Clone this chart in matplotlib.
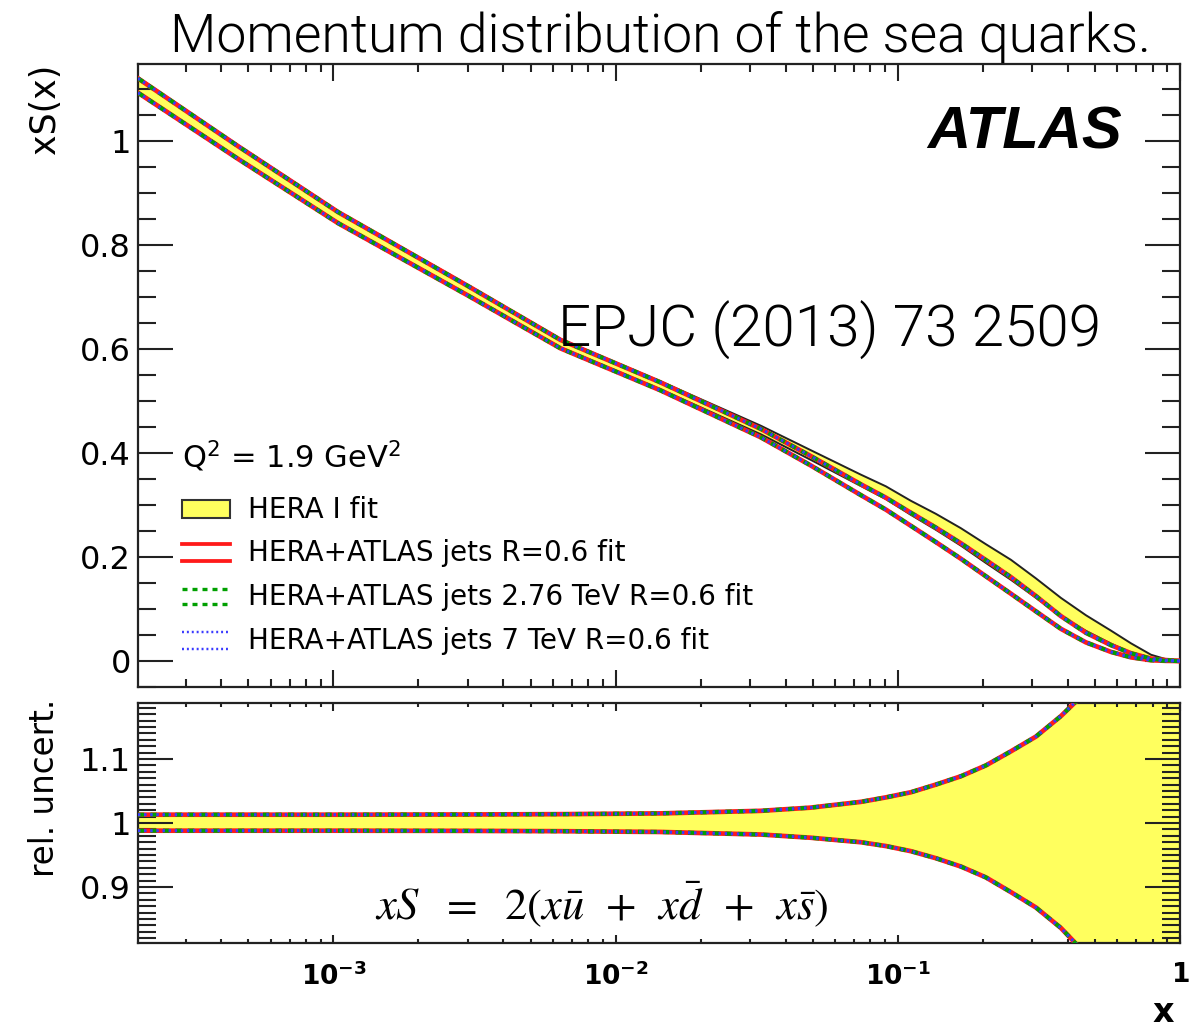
import matplotlib
matplotlib.use('Agg')
import matplotlib.pyplot as plt
import numpy as np
from matplotlib.ticker import MultipleLocator, FuncFormatter, LogLocator, FixedLocator, FixedFormatter, NullFormatter
from matplotlib.patches import Rectangle
from matplotlib.lines import Line2D

# ---------------- data ----------------
x_vals = [2.03e-4, 4.6e-4, 1.04e-3, 3.01e-3, 6.38e-3, 0.0144, 0.0327, 0.0491,
          0.0739, 0.0907, 0.1112, 0.1364, 0.1673, 0.2052, 0.2517, 0.3086,
          0.3784, 0.4642, 0.5693, 0.6703, 0.7895, 0.8923, 1.0]

hera1_central = [1.108, 0.979, 0.854, 0.713, 0.611, 0.530, 0.444, 0.396,
                 0.347, 0.323, 0.294, 0.267, 0.238, 0.206, 0.175, 0.140,
                 0.104, 0.073, 0.046, 0.025, 0.008, 0.002, 0.0]

jets_central = [1.106, 0.977, 0.852, 0.711, 0.609, 0.528, 0.438, 0.385,
                0.329, 0.302, 0.272, 0.242, 0.211, 0.178, 0.145, 0.110,
                0.074, 0.045, 0.024, 0.011, 0.003, 0.001, 0.0]
jets276_central = jets_central
jets7_central = jets_central

rel_up = [0.013, 0.013, 0.013, 0.0133, 0.0138, 0.015, 0.019, 0.024,
          0.033, 0.040, 0.048, 0.060, 0.073, 0.090, 0.112, 0.135,
          0.167, 0.205, 0.27, 0.36, 0.50, 0.70, 1.0]
rel_dn = [0.012, 0.012, 0.012, 0.0123, 0.0128, 0.014, 0.018, 0.023,
          0.030, 0.036, 0.044, 0.055, 0.068, 0.085, 0.108, 0.132,
          0.164, 0.205, 0.27, 0.36, 0.50, 0.70, 1.0]

legend_labels = ["HERA I fit", "HERA+ATLAS jets R=0.6 fit",
                 "HERA+ATLAS jets 2.76 TeV R=0.6 fit",
                 "HERA+ATLAS jets 7 TeV R=0.6 fit"]
xtick_vals = [1e-3, 1e-2, 1e-1, 1.0]
xtick_labels = [r'$\mathbf{10^{-3}}$', r'$\mathbf{10^{-2}}$', r'$\mathbf{10^{-1}}$', r'$\mathbf{1}$']

# ---------------- figure ----------------
W, H = 1203, 1027
fig = plt.figure(figsize=(W / 100, H / 100), dpi=100)

def fx(px):
    return px / W

def fy(py):
    return 1 - py / H

L, R = 138, 1180
ax1 = fig.add_axes([fx(L), fy(687), (R - L) / W, (687 - 64) / H])
ax2 = fig.add_axes([fx(L), fy(943), (R - L) / W, (943 - 703) / H])

YEL = '#ffff5e'
RED = '#ff1a1a'
GRN = '#00a000'
BLU = '#3a3aff'
STYLES = [(RED, '-', 3.4), (GRN, (0, (1.5, 1.5)), 3.0), (BLU, (0, (0.8, 1.2)), 2.2)]

x = np.array(x_vals)
hc = np.array(hera1_central)
jc = np.array(jets_central)
j2 = np.array(jets276_central)
j7 = np.array(jets7_central)
ru = np.array(rel_up)
rd = np.array(rel_dn)

# top panel
ax1.fill_between(x, hc * (1 - rd), hc * (1 + ru), color=YEL, lw=0, zorder=1)
ax1.plot(x, hc * (1 + ru), color='#222222', lw=1.4, zorder=2)
ax1.plot(x, hc * (1 - rd), color='#222222', lw=1.4, zorder=2)
for c, (col, ls, lw) in zip([jc, j2, j7], STYLES):
    ax1.plot(x, c * (1 + ru), color=col, ls=ls, lw=lw, zorder=3)
    ax1.plot(x, c * (1 - rd), color=col, ls=ls, lw=lw, zorder=3)

# bottom panel
ax2.fill_between(x, 1 - rd, 1 + ru, color=YEL, lw=0, zorder=1)
for col, ls, lw in STYLES:
    ax2.plot(x, 1 + ru, color=col, ls=ls, lw=lw, zorder=3)
    ax2.plot(x, 1 - rd, color=col, ls=ls, lw=lw, zorder=3)

for ax in (ax1, ax2):
    ax.set_xscale('log')
    ax.set_xlim(2.03e-4, 1.0)
    for s in ax.spines.values():
        s.set_linewidth(1.6)
        s.set_color('#222222')
    ax.xaxis.set_major_locator(FixedLocator(xtick_vals))
    ax.xaxis.set_minor_locator(LogLocator(base=10, subs=np.arange(2, 10), numticks=20))
    ax.xaxis.set_minor_formatter(NullFormatter())

ax1.set_ylim(-0.05, 1.148)
ax1.yaxis.set_major_locator(MultipleLocator(0.2))
ax1.yaxis.set_minor_locator(MultipleLocator(0.05))
ax1.yaxis.set_major_formatter(FuncFormatter(lambda v, p: '%g' % round(v, 3)))
ax1.tick_params(axis='y', which='major', direction='in', length=25, width=1.5,
                left=True, right=True, labelsize=23, pad=5, color='#222222')
ax1.tick_params(axis='y', which='minor', direction='in', length=13, width=1.5,
                left=True, right=True, color='#222222')
ax1.tick_params(axis='x', which='major', direction='in', length=12, width=1.5,
                top=True, bottom=True, labelbottom=False, color='#222222')
ax1.tick_params(axis='x', which='minor', direction='in', length=6, width=1.5,
                top=True, bottom=True, color='#222222')

ax2.set_ylim(0.8125, 1.1875)
ax2.yaxis.set_major_locator(MultipleLocator(0.1))
ax2.yaxis.set_minor_locator(MultipleLocator(0.01))
ax2.yaxis.set_major_formatter(FuncFormatter(lambda v, p: '%g' % round(v, 3)))
ax2.xaxis.set_major_formatter(FixedFormatter(xtick_labels))
ax2.tick_params(axis='y', which='major', direction='in', length=25, width=1.5,
                left=True, right=True, labelsize=23, pad=5, color='#222222')
ax2.tick_params(axis='y', which='minor', direction='in', length=13, width=1.5,
                left=True, right=True, color='#222222')
ax2.tick_params(axis='x', which='major', direction='in', length=6, width=1.5,
                top=True, bottom=True, labelsize=19, pad=14, color='#222222')
ax2.tick_params(axis='x', which='minor', direction='in', length=3, width=1.5,
                top=True, bottom=True, color='#222222')

# ---------------- texts ----------------
TFONT = ['Roboto', 'DejaVu Sans']
fig.text(fx(660), fy(37), 'Momentum distribution of the sea quarks.', ha='center', va='center',
         fontsize=38.5, family=TFONT, weight=300, color='black')
fig.text(fx(558), fy(330), 'EPJC (2013) 73 2509', ha='left', va='center',
         fontsize=42, family=TFONT, weight=300, color='black')
fig.text(fx(1122), fy(133), 'ATLAS', ha='right', va='center', fontsize=43,
         family='Liberation Sans', weight='bold', style='italic')
fig.text(fx(45), fy(64), 'xS(x)', rotation=90, ha='center', va='top', fontsize=25)
fig.text(fx(45), fy(699), 'rel. uncert.', rotation=90, ha='center', va='top', fontsize=23.5)
fig.text(fx(1163), fy(1012), 'x', ha='center', va='center', fontsize=24, weight='bold')
fig.text(fx(602), fy(905), r'$xS\ \ =\ \ 2(x\bar{u}\ \,+\ \,x\bar{d}\ \,+\ \,x\bar{s})$', ha='center', va='center',
         fontsize=32, math_fontfamily='stix')

# legend (drawn manually)
fig.text(fx(182), fy(456), r'Q$^2$ = 1.9 GeV$^2$', ha='left', va='center', fontsize=22)
fig.patches.append(Rectangle((fx(182), fy(518)), (230 - 182) / W, 18 / H, transform=fig.transFigure,
                             facecolor=YEL, edgecolor='#333333', lw=1.5))
for (ya, yb), (col, ls, lw) in zip([(544, 561), (589, 604), (632, 649)], STYLES):
    for yy in (ya, yb):
        fig.lines.append(Line2D([fx(182), fx(230)], [fy(yy), fy(yy)], transform=fig.transFigure,
                                color=col, ls=ls, lw=lw * 0.8))
for yy, lab in zip([510, 553, 597, 641], legend_labels):
    fig.text(fx(248), fy(yy), lab, ha='left', va='center', fontsize=20)

fig.savefig('out.png', dpi=100)
